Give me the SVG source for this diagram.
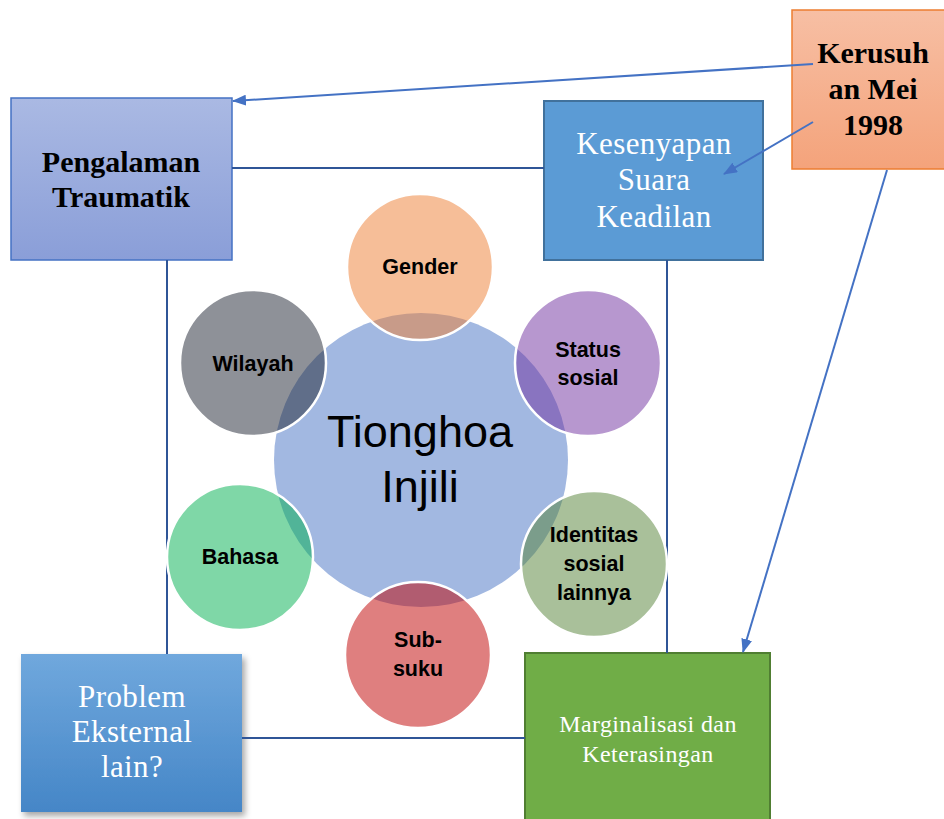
<svg xmlns="http://www.w3.org/2000/svg" width="944" height="819" viewBox="0 0 944 819">
<defs>
<linearGradient id="gPeng" x1="0" y1="0" x2="0" y2="1"><stop offset="0" stop-color="#AAB9E3"/><stop offset="1" stop-color="#8A9ED8"/></linearGradient>
<linearGradient id="gKer" x1="0" y1="0" x2="0" y2="1"><stop offset="0" stop-color="#F7BFA4"/><stop offset="1" stop-color="#F4A37B"/></linearGradient>
<linearGradient id="gProb" x1="0" y1="0" x2="0" y2="1"><stop offset="0" stop-color="#70A8DD"/><stop offset="1" stop-color="#4586C7"/></linearGradient>
<marker id="ah" viewBox="0 0 14 11" refX="13" refY="5.5" markerWidth="14" markerHeight="11" markerUnits="userSpaceOnUse" orient="auto"><path d="M0,0 L14,5.5 L0,11 z" fill="#4472C4"/></marker>
<filter id="sh" x="-10%" y="-10%" width="130%" height="130%"><feDropShadow dx="3" dy="4" stdDeviation="3" flood-color="#000" flood-opacity="0.35"/></filter>
</defs>
<style>
.frame{stroke:#2F5597;stroke-width:2;fill:none}
.arr{stroke:#4472C4;stroke-width:2;fill:none;marker-end:url(#ah)}
.ser{font-family:"Liberation Serif","Times New Roman",serif;text-anchor:middle}
.sb{font-weight:bold;font-size:30px;fill:#000}
.sw{fill:#fff;font-size:31px;letter-spacing:0.4px}
.sat{stroke:#fff;stroke-width:2.5;fill-opacity:0.5}
.ct{font-family:"Liberation Sans",Arial,sans-serif;font-weight:bold;font-size:21.5px;fill:#000;text-anchor:middle}
</style>
<g id="pengalaman">
<rect x="11" y="98" width="221" height="162" fill="url(#gPeng)" stroke="#4472C4" stroke-width="1.5"/>
<text class="ser sb" x="121" y="172">Pengalaman</text>
<text class="ser sb" x="121" y="207">Traumatik</text>
</g>
<g id="kesenyapan">
<rect x="544" y="101" width="219" height="159" fill="#5B9BD5" stroke="#41719C" stroke-width="2"/>
<text class="ser sw" x="654" y="154">Kesenyapan</text>
<text class="ser sw" x="654" y="190">Suara</text>
<text class="ser sw" x="654" y="227">Keadilan</text>
</g>
<g id="kerusuhan">
<rect x="792" y="10" width="160" height="159" fill="url(#gKer)" stroke="#ED7D31" stroke-width="1.5"/>
<text class="ser sb" x="873" y="63">Kerusuh</text>
<text class="ser sb" x="873" y="99">an Mei</text>
<text class="ser sb" x="873" y="135">1998</text>
</g>
<g id="problem">
<rect x="21" y="654" width="221" height="158" fill="url(#gProb)" filter="url(#sh)"/>
<text class="ser sw" x="132" y="707">Problem</text>
<text class="ser sw" x="132" y="742">Eksternal</text>
<text class="ser sw" x="132" y="777">lain?</text>
</g>
<g id="marginalisasi">
<rect x="525" y="653" width="245" height="180" fill="#70AD47" stroke="#507E32" stroke-width="2"/>
<text class="ser" x="648" y="732" fill="#fff" font-size="24" letter-spacing="0.4">Marginalisasi dan</text>
<text class="ser" x="648" y="762" fill="#fff" font-size="24" letter-spacing="0.4">Keterasingan</text>
</g>
<g id="connectors">
<line class="frame" x1="232" y1="168" x2="544" y2="168"/>
<line class="frame" x1="167" y1="260" x2="167" y2="654"/>
<line class="frame" x1="667" y1="260" x2="667" y2="653"/>
<line class="frame" x1="242" y1="738" x2="525" y2="738"/>
<line class="arr" x1="813" y1="64" x2="233" y2="101"/>
<line class="arr" x1="813" y1="122" x2="724" y2="174"/>
<line class="arr" x1="887" y1="170" x2="743" y2="652"/>
</g>
<g id="tionghoa">
<circle cx="421" cy="460" r="147" fill="#A2B8E1"/>
<text x="420" y="447" font-family="Liberation Sans, Arial, sans-serif" font-size="45" fill="#000" text-anchor="middle">Tionghoa</text>
<text x="420" y="502" font-family="Liberation Sans, Arial, sans-serif" font-size="45" fill="#000" text-anchor="middle">Injili</text>
</g>
<g id="gender">
<circle class="sat" cx="420" cy="267" r="73" fill="#ED7D31"/>
<text class="ct" x="420" y="274">Gender</text>
</g>
<g id="status">
<circle class="sat" cx="588" cy="363" r="73" fill="#7030A0"/>
<text class="ct" x="588" y="357">Status</text>
<text class="ct" x="588" y="385">sosial</text>
</g>
<g id="identitas">
<circle class="sat" cx="594" cy="564" r="73" fill="#548235"/>
<text class="ct" x="594" y="542">Identitas</text>
<text class="ct" x="594" y="571">sosial</text>
<text class="ct" x="594" y="600">lainnya</text>
</g>
<g id="subsuku">
<circle class="sat" cx="418" cy="655" r="73" fill="#C00000"/>
<text class="ct" x="418" y="647">Sub-</text>
<text class="ct" x="418" y="676">suku</text>
</g>
<g id="bahasa">
<circle class="sat" cx="240" cy="557" r="73" fill="#00B050"/>
<text class="ct" x="240" y="564">Bahasa</text>
</g>
<g id="wilayah">
<circle class="sat" cx="253" cy="363" r="73" fill="#1D2331"/>
<text class="ct" x="253" y="371">Wilayah</text>
</g>
</svg>
